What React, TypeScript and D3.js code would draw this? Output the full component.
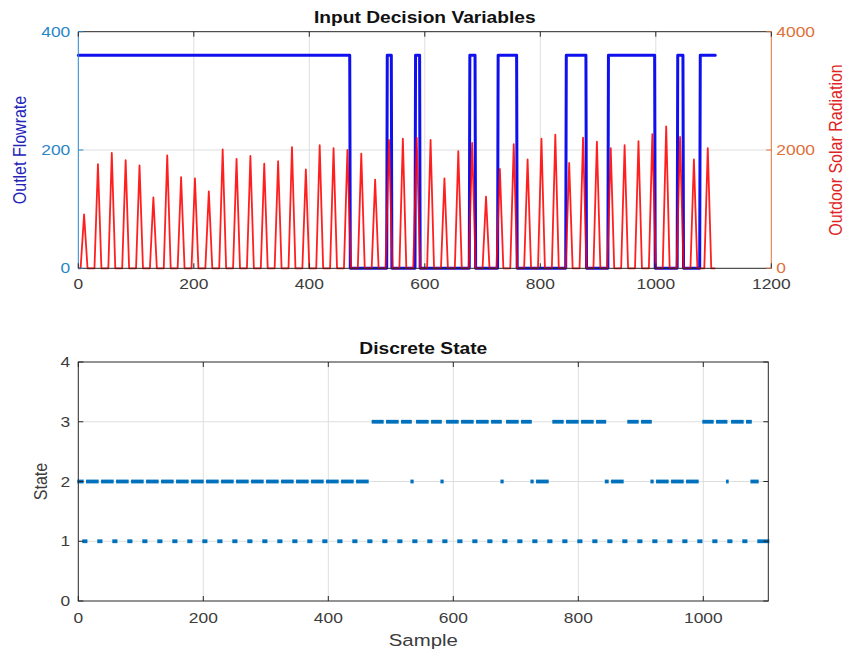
import React from "react";
import * as d3 from "d3";

// ---------- data ----------
// Outlet flowrate: intervals (sample index) where flow is ON, level when ON
const flowOnRuns: [number, number][] = [
  [0, 470], [535, 542], [584, 591], [678, 687], [727, 759],
  [845, 879], [918, 998], [1038, 1047], [1077, 1103],
];
const flowOnLevel = 360;
const flowEnd = 1103;

// Outdoor solar radiation: daily peak sample and peak value
const solarPeakTimes = [
  10, 34, 58, 82, 106, 130, 154, 178, 202, 226, 250, 274, 298, 322, 346, 370,
  394, 418, 442, 466, 490, 514, 538, 562, 586, 610, 634, 658, 682, 706, 730,
  754, 778, 802, 826, 850, 874, 898, 922, 946, 970, 994, 1018, 1042, 1066, 1090,
];
const solarPeaks = [
  910, 1760, 1950, 1830, 1740, 1200, 1910, 1540, 1520, 1300, 2010, 1850, 1900,
  1770, 1810, 2050, 1670, 2080, 2030, 2000, 1940, 1500, 2170, 2190, 2210, 2170,
  1520, 1980, 2120, 1210, 1680, 2100, 1840, 2190, 2260, 1780, 2210, 2140, 2030,
  2080, 2150, 2270, 2400, 2220, 1840, 2030,
];
const solarHalfWidth = 6;

// Discrete state
const stateOneStarts = [
  8, 32, 56, 80, 104, 128, 152, 176, 200, 224, 248, 272, 296, 320, 344, 368,
  392, 416, 440, 464, 488, 512, 536, 560, 584, 608, 632, 656, 680, 704, 728,
  752, 776, 800, 824, 848, 872, 896, 920, 944, 968, 992, 1016, 1040, 1064, 1088,
];
const stateOneLength = 6;
const stateTwoRuns: [number, number][] = [
  [0, 466], [533, 537], [581, 585], [677, 682], [725, 755],
  [844, 875], [917, 995], [1038, 1043], [1077, 1104],
];
const stateThreeRuns: [number, number][] = [
  [471, 728], [760, 846], [880, 921], [1000, 1080],
];
const stateEnd = 1104;

// ticks
const topXTicks = [0, 200, 400, 600, 800, 1000, 1200];
const leftTicks = [0, 200, 400];
const rightTicks = [0, 2000, 4000];
const botXTicks = [0, 200, 400, 600, 800, 1000];
const botYTicks = [0, 1, 2, 3, 4];

// ---------- styling ----------
const FONT = "'Liberation Sans', Arial, Helvetica, sans-serif";
const SX = 1.2; // horizontal stretch seen in the reference text
const AX = "#262626";
const TICKTXT = "#3c3c3c";
const GRID = "#dedede";
const LEFTC = "#2a86c8";
const RIGHTC = "#e0703a";
const MARK = "#0072BD";

function HText(props: any) {
  const { x, y, anchor = "middle", size = 14.5, weight = "normal", fill = TICKTXT, children } = props;
  return (
    <text
      transform={`translate(${x},${y}) scale(${SX},1)`}
      textAnchor={anchor}
      fontSize={size}
      fontWeight={weight}
      fill={fill}
      fontFamily={FONT}
    >
      {children}
    </text>
  );
}

function VText(props: any) {
  const { x, y, size = 16, fill = TICKTXT, children } = props;
  return (
    <text
      transform={`translate(${x},${y}) rotate(-90) scale(1,${SX})`}
      textAnchor="middle"
      fontSize={size}
      fill={fill}
      fontFamily={FONT}
    >
      {children}
    </text>
  );
}

export default function App() {
  // ----- top chart -----
  const L = 78.3, R = 771.3, T = 31.7, B = 268.3;
  const x = d3.scaleLinear().domain([0, 1200]).range([L, R]);
  const yL = d3.scaleLinear().domain([0, 400]).range([B, T]);
  const yR = d3.scaleLinear().domain([0, 4000]).range([B, T]);

  const flowPts: [number, number][] = [];
  flowOnRuns.forEach(([a, b], i) => {
    if (i === 0 && a === 0) flowPts.push([0, flowOnLevel]);
    else {
      flowPts.push([a - 1, 0]);
      flowPts.push([a, flowOnLevel]);
    }
    flowPts.push([b, flowOnLevel]);
    if (b < flowEnd) flowPts.push([b + 1, 0]);
  });
  const flowLine = d3.line<[number, number]>().x((d) => x(d[0])).y((d) => yL(d[1]))(flowPts) || "";

  const solarPts: [number, number][] = [[0, 0]];
  solarPeakTimes.forEach((t, i) => {
    solarPts.push([Math.max(0, t - solarHalfWidth), 0]);
    solarPts.push([t, solarPeaks[i]]);
    solarPts.push([t + solarHalfWidth, 0]);
  });
  solarPts.push([flowEnd, 0]);
  const solarLine = d3.line<[number, number]>().x((d) => x(d[0])).y((d) => yR(d[1]))(solarPts) || "";

  // ----- bottom chart -----
  const L2 = 78.3, R2 = 768.3, T2 = 362, B2 = 601;
  const x2 = d3.scaleLinear().domain([0, stateEnd]).range([L2, R2]);
  const y2 = d3.scaleLinear().domain([0, 4]).range([B2, T2]);

  const inRuns = (t: number, runs: [number, number][]) => runs.some(([a, b]) => t >= a && t <= b);
  const lastOne = stateOneStarts[stateOneStarts.length - 1];
  const stateAt = (t: number) => {
    if (stateOneStarts.some((s) => t >= s && t < s + (s === lastOne ? stateEnd - s + 1 : stateOneLength))) return 1;
    if (inRuns(t, stateTwoRuns)) return 2;
    if (inRuns(t, stateThreeRuns)) return 3;
    return 0;
  };
  const segs: { s: number; a: number; b: number }[] = [];
  let cur: { s: number; a: number; b: number } | null = null;
  for (let t = 0; t <= stateEnd; t++) {
    const s = stateAt(t);
    if (cur && cur.s === s && cur.b === t - 1) cur.b = t;
    else {
      if (cur && cur.s) segs.push(cur);
      cur = { s, a: t, b: t };
    }
  }
  if (cur && cur.s) segs.push(cur);

  const tick = 5;

  return (
    <svg width={845} height={652} style={{ position: "absolute", left: 0, top: 0, background: "#fff" }}>
      <rect x={0} y={0} width={845} height={652} fill="#fff" />

      {/* ===== TOP CHART ===== */}
      <g>
        {topXTicks.filter((v) => v > 0 && v < 1200).map((v) => (
          <line key={"gx" + v} x1={x(v)} x2={x(v)} y1={T} y2={B} stroke={GRID} strokeWidth={1} />
        ))}
        <line x1={L} x2={R} y1={yL(200)} y2={yL(200)} stroke={GRID} strokeWidth={1} />

        <path d={flowLine} fill="none" stroke="#1010ee" strokeWidth={3} strokeLinejoin="round" strokeLinecap="round" />
        <path d={solarLine} fill="none" stroke="#ff0000" strokeOpacity={0.88} strokeWidth={1.8} strokeLinejoin="round" />

        {/* frame */}
        <line x1={L} x2={R} y1={T} y2={T} stroke={AX} strokeWidth={1} />
        <line x1={L} x2={R} y1={B} y2={B} stroke={AX} strokeWidth={1} />
        <line x1={L} x2={L} y1={T} y2={B} stroke={LEFTC} strokeWidth={1} />
        <line x1={R} x2={R} y1={T} y2={B} stroke={RIGHTC} strokeWidth={1} />

        {topXTicks.map((v) => (
          <g key={"tx" + v}>
            <line x1={x(v)} x2={x(v)} y1={B} y2={B - tick} stroke={AX} />
            <line x1={x(v)} x2={x(v)} y1={T} y2={T + tick} stroke={AX} />
            <HText x={x(v)} y={B + 21}>{v}</HText>
          </g>
        ))}
        {leftTicks.map((v) => (
          <g key={"ly" + v}>
            <line x1={L} x2={L + tick} y1={yL(v)} y2={yL(v)} stroke={LEFTC} />
            <HText x={L - 8} y={yL(v) + 5} anchor="end" fill={LEFTC}>{v}</HText>
          </g>
        ))}
        {rightTicks.map((v) => (
          <g key={"ry" + v}>
            <line x1={R} x2={R - tick} y1={yR(v)} y2={yR(v)} stroke={RIGHTC} />
            <HText x={R + 5} y={yR(v) + 5} anchor="start" fill={RIGHTC}>{v}</HText>
          </g>
        ))}

        <HText x={(L + R) / 2} y={22.5} size={16} weight="bold" fill="#111">Input Decision Variables</HText>
        <VText x={26} y={(T + B) / 2} size={16} fill="#2424b8">Outlet Flowrate</VText>
        <VText x={842} y={(T + B) / 2} size={16} fill="#e02424">Outdoor Solar Radiation</VText>
      </g>

      {/* ===== BOTTOM CHART ===== */}
      <g>
        {botXTicks.filter((v) => v > 0).map((v) => (
          <line key={"g2x" + v} x1={x2(v)} x2={x2(v)} y1={T2} y2={B2} stroke={GRID} strokeWidth={1} />
        ))}
        {botYTicks.filter((v) => v > 0 && v < 4).map((v) => (
          <line key={"g2y" + v} x1={L2} x2={R2} y1={y2(v)} y2={y2(v)} stroke={GRID} strokeWidth={1} />
        ))}

        {segs.map((sg, i) => (
          <rect
            key={"s" + i}
            x={x2(sg.a) - 1}
            y={y2(sg.s) - 1.9}
            width={x2(sg.b) - x2(sg.a) + 2}
            height={3.8}
            fill={MARK}
          />
        ))}

        <rect x={L2} y={T2} width={R2 - L2} height={B2 - T2} fill="none" stroke={AX} strokeWidth={1} />
        {botXTicks.map((v) => (
          <g key={"bx" + v}>
            <line x1={x2(v)} x2={x2(v)} y1={B2} y2={B2 - tick} stroke={AX} />
            <line x1={x2(v)} x2={x2(v)} y1={T2} y2={T2 + tick} stroke={AX} />
            <HText x={x2(v)} y={B2 + 22}>{v}</HText>
          </g>
        ))}
        {botYTicks.map((v) => (
          <g key={"by" + v}>
            <line x1={L2} x2={L2 + tick} y1={y2(v)} y2={y2(v)} stroke={AX} />
            <line x1={R2} x2={R2 - tick} y1={y2(v)} y2={y2(v)} stroke={AX} />
            <HText x={L2 - 8} y={y2(v) + 5} anchor="end">{v}</HText>
          </g>
        ))}

        <HText x={(L2 + R2) / 2} y={354} size={16} weight="bold" fill="#111">Discrete State</HText>
        <HText x={(L2 + R2) / 2} y={646} size={17} fill={TICKTXT}>Sample</HText>
        <VText x={47} y={(T2 + B2) / 2} size={16} fill={TICKTXT}>State</VText>
      </g>
    </svg>
  );
}
